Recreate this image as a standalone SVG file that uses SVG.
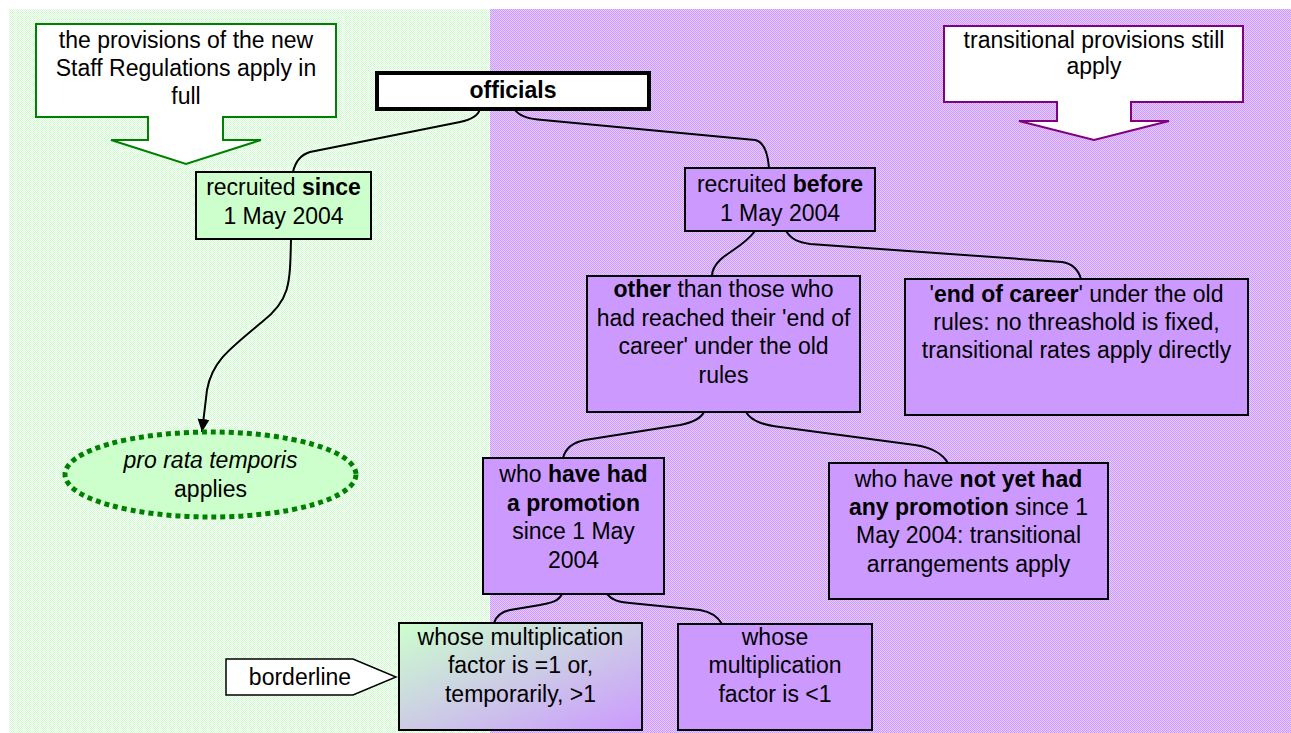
<svg xmlns="http://www.w3.org/2000/svg" width="1291" height="733" viewBox="0 0 1291 733">
<style>
text{font-family:"Liberation Sans",Arial,sans-serif;font-size:23px;fill:#000;text-anchor:middle}
.b{font-weight:bold}
.box{stroke:#000;stroke-width:2}
.pb{fill:#cc99ff}
.gb{fill:#ccffcc}
.conn{fill:none;stroke:#000;stroke-width:2}
</style>
<defs>
<pattern id="gpat" width="2" height="2" patternUnits="userSpaceOnUse">
<rect width="2" height="2" fill="#ffffff"/>
<rect width="1" height="1" fill="#ccffcc"/>
<rect x="1" y="1" width="1" height="1" fill="#ccffcc"/>
</pattern>
<pattern id="ppat" width="2" height="2" patternUnits="userSpaceOnUse">
<rect width="2" height="2" fill="#e6ccff"/>
<rect width="1" height="1" fill="#cc99ff"/>
<rect x="1" y="1" width="1" height="1" fill="#cc99ff"/>
</pattern>
<linearGradient id="mix" x1="0" y1="0" x2="1" y2="1">
<stop offset="0" stop-color="#ccffcc"/>
<stop offset="1" stop-color="#cc99ff"/>
</linearGradient>
<marker id="arr" markerWidth="14" markerHeight="14" refX="13" refY="7" orient="auto" markerUnits="userSpaceOnUse">
<path d="M0,1 L13,7 L0,13 Z" fill="#000"/>
</marker>
</defs>

<rect x="9" y="9" width="481" height="724" fill="url(#gpat)"/>
<rect x="490" y="9" width="801" height="724" fill="url(#ppat)"/>

<g id="callout-new">
<path d="M36,24 H336 V117 H223 V140 H261 L186,164 L111,140 H148 V117 H36 Z" fill="#fff" stroke="#008000" stroke-width="2"/>
<text x="186" y="48">the provisions of the new</text>
<text x="186" y="76">Staff Regulations apply in</text>
<text x="186" y="104">full</text>
</g>

<g id="callout-transitional">
<path d="M944,26 H1243 V102 H1131 V121 H1169 L1094,140 L1019,121 H1057 V102 H944 Z" fill="#fff" stroke="#800080" stroke-width="2"/>
<text x="1094" y="48">transitional provisions still</text>
<text x="1094" y="74">apply</text>
</g>

<g id="connectors">
<path class="conn" d="M480,109 C478,116 470,120 460,122 L310,152 C300,155 295,163 293,172"/>
<path class="conn" d="M514,109 C520,117 530,119 543,120 L755,140 C765,142 768,155 769,168"/>
<path class="conn" d="M291,239 C290,285 290,300 262,322 C228,350 212,362 207,390 L202,432" marker-end="url(#arr)"/>
<path class="conn" d="M755,231 C745,245 728,252 720,260 C714,266 712,271 712,276"/>
<path class="conn" d="M786,231 C792,240 798,242 810,244 L1062,262 C1075,264 1079,272 1081,279"/>
<path class="conn" d="M704,412 C700,420 690,423 680,425 L585,440 C570,443 565,450 563,458"/>
<path class="conn" d="M746,412 C752,422 765,425 780,427 L915,445 C935,448 943,455 948,463"/>
<path class="conn" d="M562,594 C558,602 550,603 540,605 L510,610 C500,612 496,617 494,623"/>
<path class="conn" d="M607,594 C612,600 618,602 630,603 L700,610 C712,612 718,617 722,624"/>
</g>

<g id="officials">
<rect x="377" y="73" width="272" height="36" fill="#fff" stroke="#000" stroke-width="4"/>
<text x="513" y="98" class="b">officials</text>
</g>

<g id="recruited-since">
<rect class="box gb" x="196" y="172" width="175" height="67"/>
<text x="283.5" y="195">recruited <tspan class="b">since</tspan></text>
<text x="283.5" y="224">1 May 2004</text>
</g>

<g id="pro-rata">
<ellipse cx="210.5" cy="474.5" rx="145.5" ry="42.5" fill="#ccffcc" stroke="#008000" stroke-width="5" stroke-dasharray="5 4"/>
<text x="210.5" y="468" font-style="italic">pro rata temporis</text>
<text x="210.5" y="497">applies</text>
</g>

<g id="recruited-before">
<rect class="box pb" x="685" y="168" width="190" height="63"/>
<text x="780" y="192">recruited <tspan class="b">before</tspan></text>
<text x="780" y="221">1 May 2004</text>
</g>

<g id="other">
<rect class="box pb" x="587" y="276" width="273" height="136"/>
<text x="723.5" y="297"><tspan class="b">other</tspan> than those who</text>
<text x="723.5" y="326">had reached their 'end of</text>
<text x="723.5" y="354">career' under the old</text>
<text x="723.5" y="383">rules</text>
</g>

<g id="end-of-career">
<rect class="box pb" x="905" y="279" width="343" height="136"/>
<text x="1076.5" y="302">'<tspan class="b">end of career</tspan>' under the old</text>
<text x="1076.5" y="330">rules: no threashold is fixed,</text>
<text x="1076.5" y="358">transitional rates apply directly</text>
</g>

<g id="have-had">
<rect class="box pb" x="483" y="458" width="181" height="136"/>
<text x="573.5" y="482">who <tspan class="b">have had</tspan></text>
<text x="573.5" y="511" class="b">a promotion</text>
<text x="573.5" y="539">since 1 May</text>
<text x="573.5" y="568">2004</text>
</g>

<g id="not-yet">
<rect class="box pb" x="829" y="463" width="279" height="136"/>
<text x="968.5" y="487">who have <tspan class="b">not yet had</tspan></text>
<text x="968.5" y="515"><tspan class="b">any promotion</tspan> since 1</text>
<text x="968.5" y="543">May 2004: transitional</text>
<text x="968.5" y="572">arrangements apply</text>
</g>

<g id="factor-eq1">
<rect class="box" x="399" y="623" width="243" height="107" fill="url(#mix)"/>
<text x="520.5" y="645">whose multiplication</text>
<text x="520.5" y="673">factor is =1 or,</text>
<text x="520.5" y="702">temporarily, &gt;1</text>
</g>

<g id="factor-lt1">
<rect class="box pb" x="678" y="624" width="194" height="106"/>
<text x="775" y="645">whose</text>
<text x="775" y="673">multiplication</text>
<text x="775" y="702">factor is &lt;1</text>
</g>

<g id="borderline">
<path d="M226,659 H353 L396,677 L353,695 H226 Z" fill="#fff" stroke="#000" stroke-width="1.5"/>
<text x="300" y="685">borderline</text>
</g>
</svg>
